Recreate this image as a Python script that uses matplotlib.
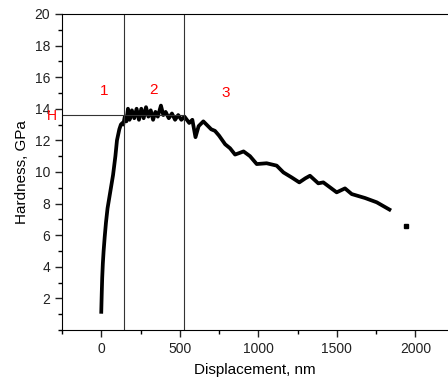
import matplotlib
matplotlib.use("Agg")
import matplotlib.pyplot as plt
from matplotlib.ticker import MultipleLocator

plt.rcParams['font.family'] = ['Liberation Sans', 'DejaVu Sans']

# displacement (nm) and hardness (GPa)
disp = [0, 3, 6, 10, 15, 22, 30, 40, 55, 75, 90, 100, 115, 125, 135,
        140, 150, 160, 170, 180, 195, 210, 225, 240, 255, 270, 285, 300,
        315, 330, 345, 360, 380, 395, 410, 430, 450, 470, 490, 510, 530,
        560, 580, 600, 620, 650, 680, 700, 724, 750, 789, 820, 852, 880,
        906, 947, 990, 1053, 1117, 1160, 1213, 1261, 1300, 1329, 1382,
        1414, 1460, 1499, 1552, 1595, 1680, 1754, 1835]
hard = [1.15, 2.3, 3.3, 4.2, 5.0, 5.9, 6.8, 7.7, 8.6, 9.8, 11.0, 12.0, 12.7, 13.0, 13.1,
        13.0, 13.5, 13.2, 14.0, 13.3, 13.9, 13.4, 14.0, 13.3, 14.0, 13.4, 14.1, 13.5,
        13.9, 13.3, 13.8, 13.5, 14.2, 13.6, 13.8, 13.4, 13.7, 13.3, 13.6, 13.3, 13.5,
        13.1, 13.3, 12.2, 12.9, 13.2, 12.9, 12.7, 12.6, 12.3, 11.75, 11.5, 11.1, 11.2,
        11.3, 11.0, 10.5, 10.55, 10.4, 9.97, 9.65, 9.34, 9.6, 9.76, 9.28,
        9.34, 9.0, 8.71, 8.96, 8.6, 8.35, 8.08, 7.62]

outlier_x = [1939]
outlier_y = [6.61]

bounds = [146, 528]
h_level = 13.63
region_labels = ["1", "2", "3"]
region_x = [20, 330, 790]
region_y = [15.15, 15.2, 15.0]

fig = plt.figure(figsize=(4.48, 3.79), dpi=100)
ax = fig.add_axes([0.1384, 0.1293, 0.8616, 0.834])

ax.plot(disp, hard, color="black", lw=2.7, solid_joinstyle="round")
ax.plot(outlier_x, outlier_y, "s", color="black", ms=2.2)

for b in bounds:
    ax.axvline(b, color="#333333", lw=0.8)
ax.plot([-250, bounds[1]], [h_level, h_level], color="#333333", lw=0.8)

for lab, x, y in zip(region_labels, region_x, region_y):
    ax.text(x, y, lab, color="red", fontsize=11, ha="center", va="center")
ax.text(-315, h_level - 0.1, "H", color="red", fontsize=10, ha="center", va="center")

ax.set_xlim(-250, 2208)
ax.set_ylim(0, 20)
ax.xaxis.set_major_locator(MultipleLocator(500))
ax.xaxis.set_minor_locator(MultipleLocator(250))
ax.yaxis.set_minor_locator(MultipleLocator(1))
ax.set_yticks([2, 4, 6, 8, 10, 12, 14, 16, 18, 20])

ax.spines["right"].set_visible(False)
ax.tick_params(which="major", direction="out", length=5, width=1, labelsize=10,
               colors="#222222")
ax.tick_params(which="minor", direction="out", length=3, width=1)

ax.set_xlabel("Displacement, nm", fontsize=11, labelpad=5)
ax.set_ylabel("Hardness, GPa", fontsize=11, labelpad=4)

fig.savefig("out.png", dpi=100)
